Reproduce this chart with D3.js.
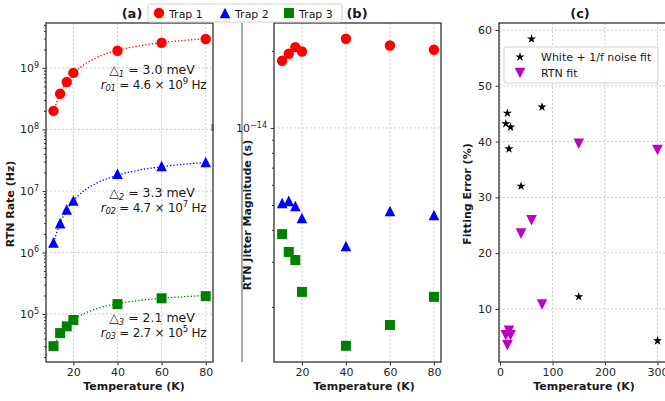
<!DOCTYPE html>
<html>
<head>
<meta charset="utf-8">
<script src="https://cdn.jsdelivr.net/npm/d3@7"></script>
<style>
  body { margin: 0; background: #fff; }
  svg { font-family: "DejaVu Sans", sans-serif; }
</style>
</head>
<body>
<div class="container"></div>
<script>
const w = 665;
const h = 401;

// measured temperatures (K)
const temps = [11, 14, 17, 20, 40, 60, 80];
// RTN rate (Hz), panel (a)
const rateTrap1 = [2.0e8, 3.8e8, 5.9e8, 8.3e8, 1.9e9, 2.56e9, 2.95e9];
const rateTrap2 = [1.45e6, 3.0e6, 5.0e6, 7.0e6, 1.9e7, 2.55e7, 2.95e7];
const rateTrap3 = [3.0e4, 4.9e4, 6.3e4, 8.0e4, 1.45e5, 1.8e5, 1.95e5];
// dotted fit curves
const fitTemps = [11, 14, 17, 20, 25, 30, 40, 50, 60, 70, 80];
const fitTrap1 = [1.94e8, 3.8e8, 5.9e8, 8.1e8, 1.14e9, 1.44e9, 1.93e9, 2.29e9, 2.57e9, 2.8e9, 2.98e9];
const fitTrap2 = [1.45e6, 3.0e6, 4.9e6, 6.9e6, 1.02e7, 1.31e7, 1.8e7, 2.19e7, 2.48e7, 2.72e7, 2.91e7];
const fitTrap3 = [2.9e4, 4.7e4, 6.4e4, 8.0e4, 1.02e5, 1.2e5, 1.47e5, 1.66e5, 1.8e5, 1.91e5, 1.99e5];
const deltaText = ['3.0', '3.3', '2.1'];
const r0Mant = ['4.6', '4.7', '2.7'];
const r0Exp = ['9', '7', '5'];
// RTN jitter magnitude (s), panel (b)
const jitTrap1 = [1.83e-14, 1.95e-14, 2.07e-14, 1.99e-14, 2.23e-14, 2.10e-14, 2.02e-14];
const jitTrap2 = [5.09e-15, 5.19e-15, 4.96e-15, 4.45e-15, 3.46e-15, 4.74e-15, 4.57e-15];
const jitTrap3 = [3.85e-15, 3.28e-15, 3.05e-15, 2.29e-15, 1.41e-15, 1.70e-15, 2.19e-15];
// fitting error (%), panel (c)
const errTemps = [11, 14, 17, 20, 40, 60, 80, 150, 300];
const errWhite = [43.2, 45.1, 38.7, 42.6, 32.0, 58.4, 46.2, 12.2, 4.3];
const errRTN = [5.3, 3.5, 6.1, 5.3, 23.5, 25.9, 10.8, 39.6, 38.5];

const trapNames = ['Trap 1', 'Trap 2', 'Trap 3'];
const trapColors = ['#ff0000', '#0000ff', '#008000'];
const trapShapes = ['circle', 'triangle', 'square'];

const plotTop = 23, plotBottom = 362;
const axisColor = '#333';
const gridColor = '#c8c8c8';

const svg = d3.select('.container')
    .append('svg')
    .attr('width', w)
    .attr('height', h);

function marker(g, shape, color, x, y) {
    if (shape === 'circle') {
        g.append('circle').attr('cx', x).attr('cy', y).attr('r', 5.2).attr('fill', color);
    } else if (shape === 'triangle') {
        g.append('path').attr('d', `M${x},${y - 5.3}L${x + 5.3},${y + 5.3}L${x - 5.3},${y + 5.3}Z`).attr('fill', color);
    } else if (shape === 'tridown') {
        g.append('path').attr('d', `M${x},${y + 5.3}L${x + 5.3},${y - 5.3}L${x - 5.3},${y - 5.3}Z`).attr('fill', color);
    } else if (shape === 'square') {
        g.append('rect').attr('x', x - 5).attr('y', y - 5).attr('width', 10).attr('height', 10).attr('fill', color);
    } else if (shape === 'star') {
        g.append('path').attr('d', d3.symbol(d3.symbolStar, 26)()).attr('transform', `translate(${x},${y})`).attr('fill', color);
    }
}

function styleAxis(g) {
    g.selectAll('.domain').remove();
    g.selectAll('line').attr('stroke', axisColor);
    g.selectAll('text').attr('fill', '#262626').style('font-size', '11px').style('font-family', 'DejaVu Sans');
}

function powLabels(g) {
    g.selectAll('.tick text').each(function (d) {
        const e = Math.round(Math.log10(d));
        const t = d3.select(this);
        t.text('10');
        t.append('tspan').attr('dy', '-0.55em').style('font-size', '8px').text(String(e).replace('-', '\u2212'));
    });
}

function minorValues(lo, hi) {
    const out = [];
    for (let e = Math.floor(Math.log10(lo)); e <= Math.ceil(Math.log10(hi)); e++) {
        for (let k = 2; k <= 9; k++) {
            const v = k * Math.pow(10, e);
            if (v > lo && v < hi) out.push(v);
        }
    }
    return out;
}

function frame(x0, x1, xScale, yScale, xTicks, yTicks, logY) {
    const g = svg.append('g');
    // grid
    g.selectAll('.gx').data(xTicks).enter().append('line')
        .attr('x1', d => xScale(d)).attr('x2', d => xScale(d))
        .attr('y1', plotTop).attr('y2', plotBottom)
        .attr('stroke', gridColor).attr('stroke-dasharray', '2,2').attr('stroke-width', 0.9);
    g.selectAll('.gy').data(yTicks).enter().append('line')
        .attr('x1', x0).attr('x2', x1)
        .attr('y1', d => yScale(d)).attr('y2', d => yScale(d))
        .attr('stroke', gridColor).attr('stroke-dasharray', '2,2').attr('stroke-width', 0.9);

    const xa = g.append('g').attr('transform', `translate(0,${plotBottom})`)
        .call(d3.axisBottom(xScale).tickValues(xTicks).tickSize(3.5).tickPadding(3).tickFormat(d3.format('d')));
    styleAxis(xa);

    const ya = g.append('g').attr('transform', `translate(${x0},0)`)
        .call(d3.axisLeft(yScale).tickValues(yTicks).tickSize(3.5).tickPadding(3.5)
            .tickFormat(logY ? (d => d) : d3.format('d')));
    styleAxis(ya);
    if (logY) {
        powLabels(ya);
        const dom = yScale.domain();
        const ym = g.append('g').attr('transform', `translate(${x0},0)`)
            .call(d3.axisLeft(yScale).tickValues(minorValues(dom[0], dom[1])).tickSize(2).tickFormat(''));
        styleAxis(ym);
    }
    return g;
}

function spines(x0, x1) {
    svg.append('rect')
        .attr('x', x0).attr('y', plotTop)
        .attr('width', x1 - x0).attr('height', plotBottom - plotTop)
        .attr('fill', 'none').attr('stroke', axisColor).attr('stroke-width', 1.3);
}

function axisTitle(x, y, text, rotate) {
    svg.append('text')
        .attr('transform', `translate(${x},${y})` + (rotate ? ' rotate(-90)' : ''))
        .attr('text-anchor', 'middle')
        .style('font-size', '11px').style('font-weight', 'bold')
        .attr('fill', '#1a1a1a')
        .text(text);
}

// ---------- panel (a) ----------
const xA = d3.scaleLinear().domain([7.6, 83.3]).range([46, 213]);
const yA = d3.scaleLog().domain([Math.pow(10, 4.22), Math.pow(10, 9.73)]).range([plotBottom, plotTop]);
frame(46, 213, xA, yA, [20, 40, 60, 80], [1e5, 1e6, 1e7, 1e8, 1e9], true);

const gA = svg.append('g');
const fits = [fitTrap1, fitTrap2, fitTrap3];
const rates = [rateTrap1, rateTrap2, rateTrap3];
const fitLine = d3.line().x(d => xA(d[0])).y(d => yA(d[1])).curve(d3.curveMonotoneX);
fits.forEach((f, i) => {
    gA.append('path')
        .datum(fitTemps.map((t, j) => [t, f[j]]))
        .attr('d', fitLine)
        .attr('fill', 'none')
        .attr('stroke', trapColors[i])
        .attr('stroke-width', 1.3)
        .attr('stroke-dasharray', '1.3,2');
});
rates.forEach((r, i) => {
    temps.forEach((t, j) => marker(gA, trapShapes[i], trapColors[i], xA(t), yA(r[j])));
});

// fit annotations
const annY = [74, 197, 322];
annY.forEach((y, i) => {
    const t1 = gA.append('text').attr('x', 152).attr('y', y).attr('text-anchor', 'middle')
        .style('font-size', '12.5px').attr('fill', '#1a1a1a');
    t1.append('tspan').text('\u25B3');
    t1.append('tspan').attr('dy', 2.5).style('font-size', '8.5px').style('font-style', 'italic').text(String(i + 1));
    t1.append('tspan').attr('dy', -2.5).text(` = ${deltaText[i]} meV`);
    const t2 = gA.append('text').attr('x', 153.5).attr('y', y + 14.5).attr('text-anchor', 'middle')
        .style('font-size', '12px').style('letter-spacing', '-0.25px').attr('fill', '#1a1a1a');
    t2.append('tspan').style('font-style', 'italic').text('r');
    t2.append('tspan').attr('dy', 2.5).style('font-size', '8.5px').style('font-style', 'italic').text('0' + (i + 1));
    t2.append('tspan').attr('dy', -2.5).text(` = ${r0Mant[i]} \u00D7 10`);
    t2.append('tspan').attr('dy', -5).style('font-size', '8.5px').text(r0Exp[i]);
    t2.append('tspan').attr('dy', 5).text(' Hz');
});
spines(46, 213);
svg.append('rect').attr('x', 211.5).attr('y', 124).attr('width', 2).attr('height', 7).attr('fill', '#555');

// ---------- panel (b) ----------
svg.append('line').attr('x1', 242).attr('x2', 242).attr('y1', plotTop).attr('y2', plotBottom)
    .attr('stroke', '#555').attr('stroke-width', 1);
const xB = d3.scaleLinear().domain([7.3, 83.2]).range([274, 441]);
const yB = d3.scaleLog().domain([Math.pow(10, -14.914), Math.pow(10, -13.59)]).range([plotBottom, plotTop]);
frame(274, 441, xB, yB, [20, 40, 60, 80], [1e-14], true);
const gB = svg.append('g');
[jitTrap1, jitTrap2, jitTrap3].forEach((s, i) => {
    temps.forEach((t, j) => marker(gB, trapShapes[i], trapColors[i], xB(t), yB(s[j])));
});
spines(274, 441);

// ---------- panel (c) ----------
const xC = d3.scaleLinear().domain([-2, 320]).range([499, 668]);
const yC = d3.scaleLinear().domain([0.5, 61.25]).range([plotBottom, plotTop]);
frame(499, 668, xC, yC, [0, 100, 200, 300], [10, 20, 30, 40, 50, 60], false);
const gC = svg.append('g');
errTemps.forEach((t, j) => marker(gC, 'tridown', '#bf00bf', xC(t), yC(errRTN[j])));
errTemps.forEach((t, j) => marker(gC, 'star', '#000', xC(t), yC(errWhite[j])));
spines(499, 668);

// legend (c)
const legC = svg.append('g');
legC.append('rect').attr('x', 504).attr('y', 47).attr('width', 154).attr('height', 36).attr('rx', 2)
    .attr('fill', 'rgba(255,255,255,0.85)').attr('stroke', '#d0d0d0');
marker(legC, 'star', '#000', 520, 57);
marker(legC, 'tridown', '#bf00bf', 520, 73);
legC.append('text').attr('x', 541).attr('y', 61).style('font-size', '11px').attr('fill', '#1a1a1a').text('White + 1/f noise fit');
legC.append('text').attr('x', 541).attr('y', 77).style('font-size', '11px').attr('fill', '#1a1a1a').text('RTN fit');

// axis titles
axisTitle(134, 390, 'Temperature (K)', false);
axisTitle(364, 390, 'Temperature (K)', false);
axisTitle(584, 390, 'Temperature (K)', false);
axisTitle(14, 204, 'RTN Rate (Hz)', true);
axisTitle(251, 215, 'RTN Jitter Magnitude (s)', true);
axisTitle(471, 194, 'Fitting Error (%)', true);

// panel titles
[['(a)', 132], ['(b)', 357], ['(c)', 580]].forEach(p => {
    svg.append('text').attr('x', p[1]).attr('y', 18).attr('text-anchor', 'middle')
        .style('font-size', '13px').style('font-weight', 'bold').attr('fill', '#1a1a1a').text(p[0]);
});

// top legend
const legT = svg.append('g');
legT.append('rect').attr('x', 148).attr('y', 4).attr('width', 194).attr('height', 18).attr('rx', 2)
    .attr('fill', '#fff').attr('stroke', '#d0d0d0');
const legX = [159, 225, 289];
trapNames.forEach((n, i) => {
    marker(legT, trapShapes[i], trapColors[i], legX[i], 13);
    legT.append('text').attr('x', legX[i] + 10).attr('y', 17.5).style('font-size', '11px').attr('fill', '#1a1a1a').text(n);
});
</script>
</body>
</html>
